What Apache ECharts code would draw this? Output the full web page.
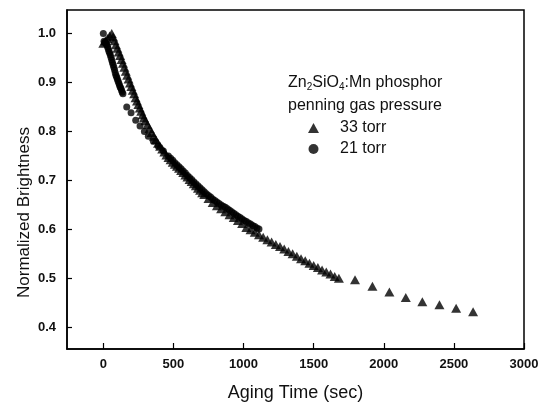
<!DOCTYPE html>
<html>
<head>
<meta charset="utf-8">
<script src="https://cdn.jsdelivr.net/npm/echarts@6/dist/echarts.min.js"></script>
<style>
html,body{margin:0;padding:0;background:#fff;}
#chart{width:547px;height:407px;}
</style>
</head>
<body>
<div id="chart"></div>
<script>
// 33 torr (triangles)
var time33 = [0, 15, 30, 45, 60, 70, 80, 90, 100, 110, 120, 130, 140, 150, 160, 170, 180, 190, 200, 210, 220, 230, 240, 250, 260, 270, 280, 290, 300,
  315, 330, 345, 360, 375, 390, 405, 420, 435, 450, 465, 480, 495, 510, 525, 540, 555, 570, 585, 600, 615, 630, 645, 660, 675, 690, 705, 720,
  750, 780, 810, 840, 870, 900, 930, 960, 990, 1020, 1050, 1080, 1110, 1140, 1170, 1200, 1230, 1260, 1290, 1320, 1350, 1380, 1410, 1440, 1470, 1500, 1530, 1560, 1590, 1620, 1650, 1680,
  1795, 1919, 2040, 2157, 2275, 2397, 2516, 2637];
var bright33 = [0.980, 0.985, 0.990, 0.995, 1.000, 0.993, 0.985, 0.977, 0.970, 0.962, 0.955, 0.947, 0.939, 0.931, 0.923, 0.915, 0.907, 0.899, 0.892, 0.884, 0.877, 0.869, 0.862, 0.855, 0.848, 0.841, 0.834, 0.828, 0.822,
  0.814, 0.806, 0.798, 0.790, 0.783, 0.776, 0.770, 0.764, 0.758, 0.752, 0.747, 0.742, 0.737, 0.733, 0.729, 0.725, 0.720, 0.716, 0.711, 0.707, 0.702, 0.698, 0.693, 0.689, 0.684, 0.680, 0.675, 0.671,
  0.663, 0.655, 0.648, 0.642, 0.636, 0.630, 0.624, 0.618, 0.612, 0.604, 0.599, 0.594, 0.589, 0.584, 0.579, 0.574, 0.569, 0.565, 0.560, 0.555, 0.550, 0.545, 0.540, 0.536, 0.531, 0.526, 0.522, 0.517, 0.513, 0.509, 0.504, 0.500,
  0.497, 0.484, 0.472, 0.461, 0.452, 0.446, 0.439, 0.432];
// 21 torr (circles)
var time21 = [0, 5, 10, 15, 20, 25, 30, 35, 40, 45, 50, 55, 60, 65, 70, 75, 80, 85, 90, 95, 100, 105, 110, 115, 120, 125, 130, 135, 140,
  167, 198, 231, 262, 293, 321, 357, 392, 428, 464,
  480, 495, 510, 525, 540, 555, 570, 585, 600, 615, 630, 645, 660, 675, 690, 705, 720, 735, 750, 765, 780, 795, 810, 825, 840, 855, 870, 885, 900, 915, 930, 945, 960, 975, 990, 1005, 1020, 1035, 1050, 1065, 1080, 1095, 1110, 1125];
var bright21 = [1.000, 0.984, 0.982, 0.981, 0.979, 0.977, 0.973, 0.969, 0.964, 0.960, 0.956, 0.951, 0.946, 0.941, 0.936, 0.931, 0.926, 0.920, 0.915, 0.911, 0.907, 0.903, 0.899, 0.895, 0.891, 0.888, 0.884, 0.880, 0.877,
  0.850, 0.838, 0.823, 0.811, 0.800, 0.790, 0.780, 0.770, 0.760, 0.750,
  0.745, 0.741, 0.736, 0.732, 0.728, 0.724, 0.719, 0.715, 0.710, 0.706, 0.702, 0.697, 0.693, 0.689, 0.685, 0.681, 0.677, 0.673, 0.669, 0.666, 0.662, 0.659, 0.656, 0.653, 0.650, 0.647, 0.645, 0.642, 0.639, 0.636, 0.633, 0.630, 0.627, 0.624, 0.621, 0.618, 0.616, 0.613, 0.611, 0.608, 0.606, 0.603, 0.601];
var xTicks = [0, 500, 1000, 1500, 2000, 2500, 3000];
var yTicks = [0.4, 0.5, 0.6, 0.7, 0.8, 0.9, 1.0];

function pairs(xs, ys) { return xs.map(function (x, i) { return [x, ys[i]]; }); }

var FONT = '"Liberation Sans", Arial, Helvetica, sans-serif';
var chart = echarts.init(document.getElementById('chart'));
chart.setOption({
  backgroundColor: '#fff',
  animation: false,
  grid: { left: 67, right: 23, top: 10, bottom: 53, show: true, borderColor: '#000', borderWidth: 1.5, backgroundColor: 'transparent' },
  xAxis: {
    type: 'value', min: -259, max: 3000,
    name: 'Aging Time (sec)', nameLocation: 'middle', nameGap: 35,
    nameTextStyle: { fontFamily: FONT, fontSize: 18, color: '#111' },
    axisLine: { show: true, onZero: false, lineStyle: { color: '#000', width: 1.5 } },
    axisTick: { show: true, inside: true, length: 6, customValues: xTicks, lineStyle: { color: '#000', width: 1.2 } },
    axisLabel: { customValues: xTicks, fontFamily: FONT, fontSize: 13, fontWeight: 'bold', color: '#111', margin: 9,
      formatter: function (v) { return String(v); } },
    splitLine: { show: false }
  },
  yAxis: {
    type: 'value', min: 0.3557, max: 1.048,
    axisLine: { show: true, onZero: false, lineStyle: { color: '#000', width: 1.5 } },
    axisTick: { show: true, inside: true, length: 5, customValues: yTicks, lineStyle: { color: '#000', width: 1.2 } },
    axisLabel: { customValues: yTicks, fontFamily: FONT, fontSize: 13, fontWeight: 'bold', color: '#111', margin: 11,
      formatter: function (v) { return v.toFixed(1); } },
    splitLine: { show: false }
  },
  legend: {
    orient: 'vertical', left: 303, top: 115, itemGap: 5, itemWidth: 11, itemHeight: 10,
    textStyle: { fontFamily: FONT, fontSize: 16, color: '#111', padding: [0, 0, 0, 16] },
    data: [{ name: '33 torr', icon: 'triangle' }, { name: '21 torr', icon: 'circle' }]
  },
  graphic: [
    { type: 'text', left: 288, top: 75, style: {
        text: 'Zn{sub|2}SiO{sub|4}:Mn phosphor', fontFamily: FONT, fontSize: 16, fill: '#111',
        rich: { sub: { fontFamily: FONT, fontSize: 10, fill: '#111', padding: [9, 0, 0, 0] } } } },
    { type: 'text', left: 288, top: 98, style: { text: 'penning gas pressure', fontFamily: FONT, fontSize: 16, fill: '#111' } },
    { type: 'text', left: 16, top: 127, rotation: Math.PI / 2, style: {
        text: 'Normalized Brightness', fontFamily: FONT, fontSize: 17, fill: '#111' } }
  ],
  series: [
    { name: '33 torr', type: 'scatter', symbol: 'triangle', symbolSize: [10, 9], itemStyle: { color: '#000' },
      data: pairs(time33, bright33) },
    { name: '21 torr', type: 'scatter', symbol: 'circle', symbolSize: 7, itemStyle: { color: '#000' },
      data: pairs(time21, bright21) }
  ]
});
</script>
</body>
</html>
